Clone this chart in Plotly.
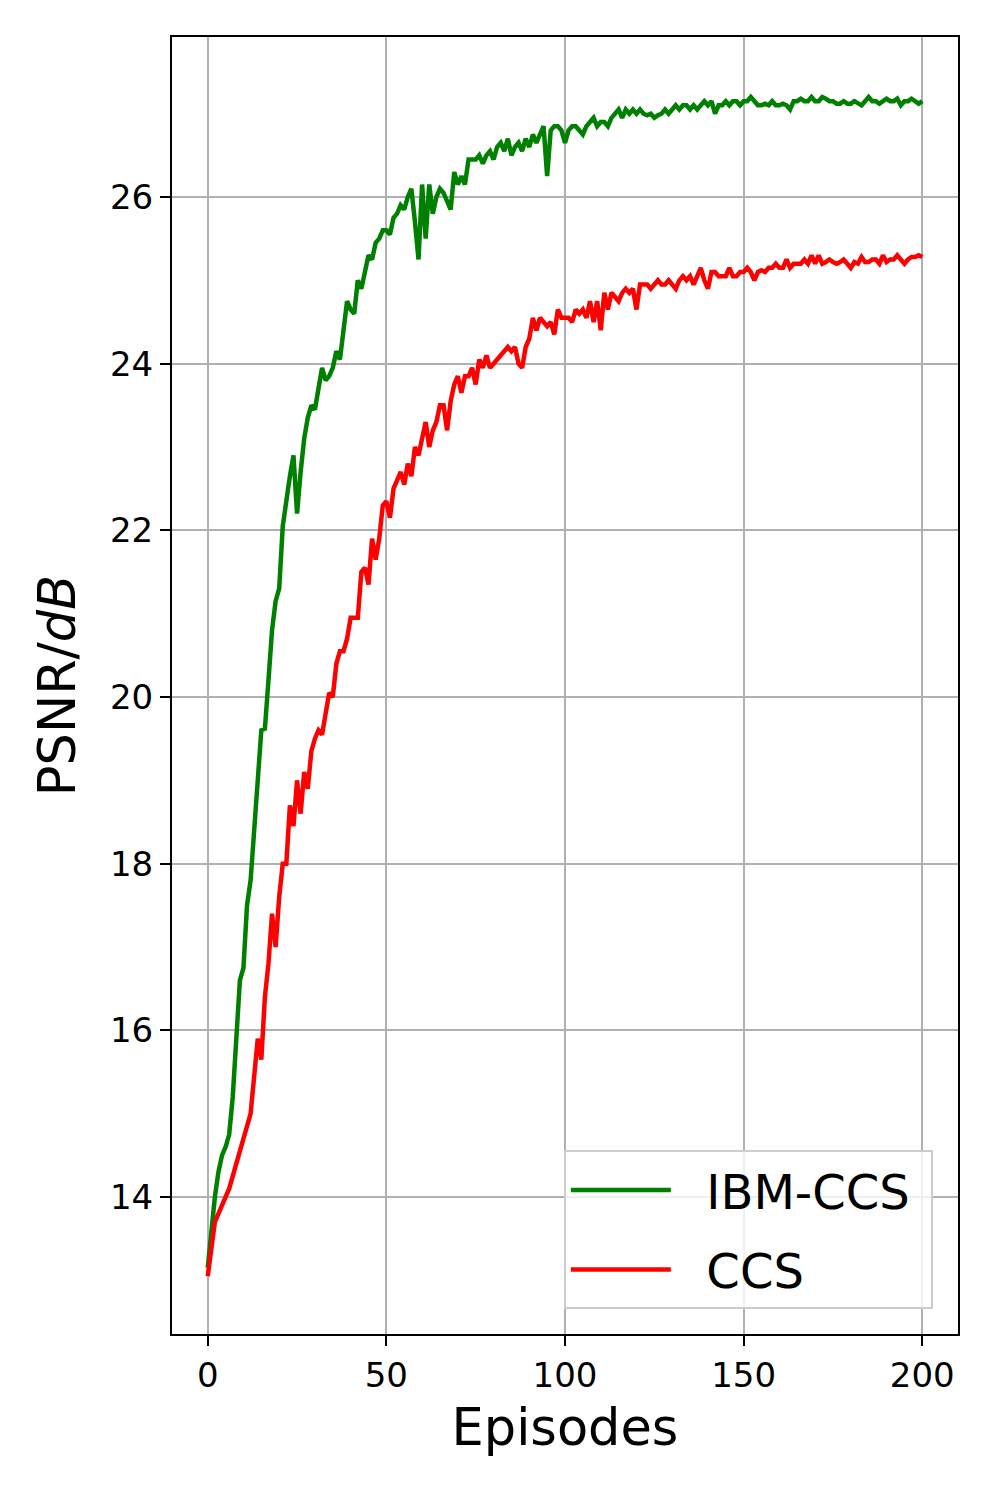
import plotly.graph_objects as go

episodes = list(range(0, 201))

ibm_ccs = [
    13.15, 13.6, 14.0, 14.3, 14.5, 14.6, 14.75, 15.2, 15.9, 16.6,
    16.75, 17.5, 17.8, 18.5, 19.0, 19.6, 19.62, 20.2, 20.8, 21.15,
    21.3, 22.05, 22.4, 22.65, 22.9, 22.2, 22.7, 23.1, 23.35, 23.5,
    23.45, 23.7, 23.95, 23.8, 23.85, 23.95, 24.15, 24.05, 24.4, 24.75,
    24.65, 24.6, 25.0, 24.9, 25.1, 25.3, 25.25, 25.45, 25.5, 25.6,
    25.6, 25.55, 25.75, 25.8, 25.9, 25.85, 26.0, 26.1, 25.7, 25.25,
    26.15, 25.5, 26.15, 25.8, 26.0, 26.1, 26.05, 25.95, 25.85, 26.3,
    26.15, 26.25, 26.15, 26.45, 26.45, 26.45, 26.5, 26.4, 26.5, 26.55,
    26.45, 26.6, 26.65, 26.55, 26.7, 26.5, 26.6, 26.65, 26.55, 26.7,
    26.6, 26.75, 26.65, 26.75, 26.85, 26.25, 26.8, 26.85, 26.85, 26.8,
    26.65, 26.8, 26.85, 26.85, 26.8, 26.75, 26.85, 26.9, 26.95, 26.85,
    26.9, 26.9, 26.85, 26.95, 27.0, 27.05, 26.95, 27.05, 27.0, 27.05,
    27.0, 27.05, 27.0, 26.98, 27.0, 26.95, 26.98, 27.0, 27.05, 27.0,
    27.05, 27.1, 27.05, 27.1, 27.1, 27.05, 27.1, 27.05, 27.1, 27.15,
    27.1, 27.15, 27.0, 27.1, 27.1, 27.15, 27.1, 27.15, 27.15, 27.1,
    27.15, 27.15, 27.2, 27.15, 27.1, 27.1, 27.12, 27.1, 27.15, 27.1,
    27.1, 27.12, 27.1, 27.05, 27.15, 27.15, 27.18, 27.15, 27.15, 27.2,
    27.15, 27.15, 27.2, 27.18, 27.15, 27.15, 27.12, 27.12, 27.15, 27.12,
    27.12, 27.15, 27.12, 27.1, 27.15, 27.2, 27.15, 27.15, 27.12, 27.15,
    27.18, 27.15, 27.15, 27.18, 27.1, 27.15, 27.15, 27.18, 27.15, 27.12,
    27.15,
]

ccs = [
    13.05, 13.4, 13.7, 13.8, 13.9, 14.0, 14.1, 14.25, 14.4, 14.55,
    14.7, 14.85, 15.0, 15.45, 15.9, 15.65, 16.4, 16.8, 17.4, 17.0,
    17.6, 18.0, 18.0, 18.7, 18.45, 19.0, 18.6, 19.1, 18.9, 19.35,
    19.5, 19.6, 19.55, 19.8, 20.05, 20.0, 20.4, 20.55, 20.55, 20.7,
    20.95, 20.95, 20.95, 21.5, 21.55, 21.35, 21.9, 21.65, 21.9, 22.3,
    22.35, 22.15, 22.5, 22.6, 22.7, 22.55, 22.8, 22.65, 23.0, 22.9,
    23.1, 23.3, 23.0, 23.2, 23.3, 23.5, 23.5, 23.2, 23.55, 23.75,
    23.85, 23.65, 23.85, 23.85, 23.95, 23.75, 24.05, 23.95, 24.1, 23.95,
    24.0, 24.05, 24.1, 24.15, 24.2, 24.15, 24.2, 24.0, 23.95, 24.2,
    24.3, 24.55, 24.4, 24.55, 24.5, 24.45, 24.5, 24.35, 24.65, 24.55,
    24.55, 24.55, 24.5, 24.65, 24.6, 24.65, 24.55, 24.75, 24.5, 24.75,
    24.4, 24.85, 24.65, 24.85, 24.8, 24.75, 24.85, 24.9, 24.85, 24.9,
    24.65, 24.95, 24.95, 24.95, 24.9, 24.95, 25.0, 24.95, 24.95, 25.0,
    24.95, 24.9, 25.0, 25.05, 25.0, 25.05, 24.95, 25.05, 25.15, 25.0,
    24.9, 25.1, 25.1, 25.05, 25.05, 25.05, 25.15, 25.05, 25.05, 25.1,
    25.1, 25.15, 25.1, 25.0, 25.1, 25.12, 25.1, 25.15, 25.15, 25.2,
    25.15, 25.15, 25.25, 25.15, 25.2, 25.2, 25.2, 25.25, 25.2, 25.3,
    25.2, 25.3, 25.2, 25.22, 25.25, 25.22, 25.2, 25.22, 25.25, 25.2,
    25.15, 25.22, 25.2, 25.28, 25.22, 25.22, 25.25, 25.25, 25.2, 25.3,
    25.22, 25.25, 25.25, 25.3, 25.25, 25.2, 25.25, 25.28, 25.28, 25.3,
    25.28,
]

series_names = ["IBM-CCS", "CCS"]
series_colors = ["#008000", "#ff0000"]

x_ticks = [0, 50, 100, 150, 200]
y_ticks = [14, 16, 18, 20, 22, 24, 26]

FONT = "DejaVu Sans"
NB = "\u00a0"

fig = go.Figure()
for name, vals, col in zip(series_names, [ibm_ccs, ccs], series_colors):
    fig.add_trace(go.Scatter(x=episodes, y=vals, mode="lines",
                             name=NB * 2 + name + NB,
                             legendgroup=name,
                             line=dict(color=col, width=4.5)))

axis_common = dict(
    showline=True, linecolor="black", linewidth=2, mirror=True,
    showgrid=True, gridcolor="#b0b0b0", gridwidth=2,
    ticks="outside", ticklen=10, tickwidth=2, tickcolor="black",
    tickfont=dict(family=FONT, size=34, color="black"),
    zeroline=False,
)

fig.update_layout(
    width=989, height=1487,
    margin=dict(l=164, r=39, t=29, b=161),
    paper_bgcolor="white", plot_bgcolor="white",
    font=dict(family=FONT, color="black"),
    xaxis=dict(range=[-10, 210], tickvals=x_ticks,
               title=dict(text="Episodes", font=dict(family=FONT, size=51), standoff=16),
               **axis_common),
    yaxis=dict(range=[12.356, 27.92], tickvals=y_ticks,
               title=dict(text="PSNR/<i>dB</i>", font=dict(family=FONT, size=51), standoff=18),
               **axis_common),
    legend=dict(x=0.968, y=0.019, xanchor="right", yanchor="bottom",
                font=dict(family=FONT, size=48, color="black"),
                bgcolor="rgba(255,255,255,0.8)", bordercolor="#cccccc", borderwidth=2,
                itemwidth=100, tracegroupgap=14),
)

fig.write_html("out.html")
